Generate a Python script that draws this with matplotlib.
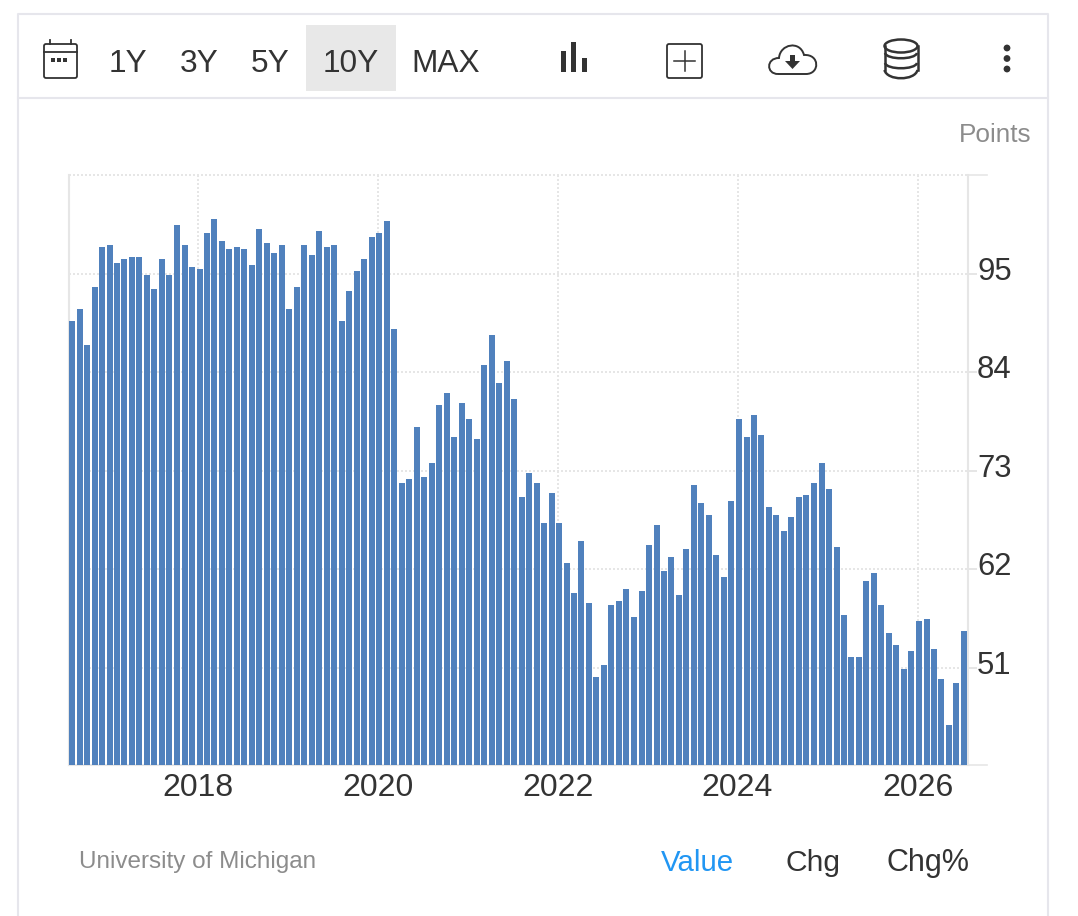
import matplotlib
matplotlib.use("Agg")
import matplotlib.pyplot as plt
import matplotlib.dates as mdates
from matplotlib.patches import Rectangle, FancyBboxPatch, Ellipse, Circle, Polygon, PathPatch
from matplotlib.path import Path
from matplotlib.transforms import ScaledTranslation
import pandas as pd

plt.rcParams['font.family'] = ['Liberation Sans', 'DejaVu Sans']

W, H = 1078, 916
values = [
    89.7, 91.05, 87.0, 93.5, 98.0, 98.2, 96.2, 96.6, 96.9, 96.9, 94.85, 93.3,
    96.6, 94.85, 100.4, 98.2, 95.75, 95.5, 99.55, 101.1, 98.65, 97.8, 98.0, 97.8,
    96.0, 100.0, 98.4, 97.3, 98.2, 91.05, 93.5, 98.2, 97.1, 99.8, 98.0, 98.2,
    89.7, 93.05, 95.3, 96.6, 99.1, 99.55, 100.9, 88.8,
    71.6, 72.06, 77.87, 72.3, 73.85, 80.33, 81.67, 76.75, 80.55, 78.77, 76.53, 84.8,
    88.15, 82.8, 85.25, 81.0, 70.05, 72.73, 71.6, 67.15, 70.5, 67.15, 62.7, 59.3,
    65.13, 58.2, 49.94, 51.3, 58.0, 58.43, 59.77, 56.64, 59.55, 64.7, 66.92, 61.8,
    63.35, 59.1,
    64.24, 71.4, 69.4, 68.04, 63.57, 61.1, 69.6, 78.77, 76.75, 79.2, 77.0, 68.93,
    68.04, 66.25, 67.82, 70.05, 70.27, 71.61, 73.85, 70.94, 64.46, 56.87, 52.17, 52.17,
    60.66, 61.56, 58.0, 54.85, 53.5, 50.83, 52.84, 56.2, 56.42, 53.07, 49.72, 44.58,
    49.27, 55.08,
]
months = pd.date_range("2016-08-01", periods=len(values), freq="MS")
y_ticks = [51, 62, 73, 84, 95]
x_years = [2018, 2020, 2022, 2024, 2026]
range_labels = ["1Y", "3Y", "5Y", "10Y", "MAX"]
range_x = [128, 199, 270, 351, 446]
source = "University of Michigan"
unit = "Points"

BAR = "#5081bd"
GRID = "#e6e6e6"
BORDER = "#e6e6ec"
INK = "#333333"
DOTS = (0, (1, 1))

fig = plt.figure(figsize=(W / 100, H / 100), dpi=100, facecolor="white")

# Chart
L, R, T, B = 68.5, 968.0, 175.0, 765.0
ax = fig.add_axes([L / W, 1 - B / H, (R - L) / W, (B - T) / H])
PX_PER_DAY = 180 / 731.0
x2018 = mdates.date2num(pd.Timestamp("2018-01-01"))
ax.set_xlim(x2018 - (198 - L) / PX_PER_DAY, x2018 + (R - 198) / PX_PER_DAY)
ax.set_ylim(40.13, 106.02)

lefts = mdates.date2num(months) - 6
ax.bar(lefts, values, width=6 / PX_PER_DAY, align="edge", color=BAR, linewidth=0, zorder=3)

ax.set_yticks(y_ticks)
ax.yaxis.tick_right()
ax.set_xticks([mdates.date2num(pd.Timestamp(f"{y}-01-01")) for y in x_years])
ax.set_xticklabels([str(y) for y in x_years], fontsize=23, color=INK)
ax.tick_params(axis="x", length=0, pad=5.4)
ax.tick_params(axis="y", length=6.5, width=1.4, color=GRID, labelsize=22.3, labelcolor=INK, pad=0)
for lab in ax.get_yticklabels():
    lab.set_transform(lab.get_transform() + ScaledTranslation(0, 5.5 / 100, fig.dpi_scale_trans))
ax.grid(True, color=GRID, linestyle=DOTS, linewidth=1.44, zorder=0)
ax.set_axisbelow(True)
ax.spines["top"].set_visible(False)
for s in ["left", "right", "bottom"]:
    ax.spines[s].set_color(GRID)
    ax.spines[s].set_linewidth(1.5)

# Overlay in pixel coordinates for the page chrome
ov = fig.add_axes([0, 0, 1, 1], facecolor="none", zorder=5)
ov.set_xlim(0, W)
ov.set_ylim(H, 0)
ov.axis("off")

ov.plot([L, R], [T, T], color=GRID, lw=1.44, linestyle=DOTS)
ov.plot([R, 987], [T, T], color=GRID, lw=1.2)
ov.plot([R, 987], [B, B], color=GRID, lw=1.2)

# Card
ov.plot([18, 18, 1048, 1048], [H, 14, 14, H], color=BORDER, lw=1.5)
ov.plot([18, 1048], [98, 98], color=BORDER, lw=1.5)
ov.add_patch(Rectangle((306, 25), 90, 66, color="#e8e8e8", lw=0))

for lab, x in zip(range_labels, range_x):
    ov.text(x, 64, lab, fontsize=22.8, color=INK, ha="center", va="center")

# Calendar icon
ov.add_patch(FancyBboxPatch((44, 44), 33, 34, boxstyle="round,pad=0,rounding_size=2", fc="none", ec=INK, lw=1.3))
ov.plot([44, 77], [52, 52], color=INK, lw=1.3)
for x in (50, 71):
    ov.plot([x, x], [40, 44], color=INK, lw=1.3)
for x in (51, 57, 63):
    ov.add_patch(Rectangle((x, 58), 3.5, 3.5, color=INK, lw=0))

# Bars icon
for x, top in zip((561, 571, 582), (51, 42, 58)):
    ov.add_patch(Rectangle((x, top), 5, 72 - top, color=INK, lw=0))

# Plus box
ov.add_patch(FancyBboxPatch((667, 44), 35, 34, boxstyle="round,pad=0,rounding_size=2", fc="none", ec=INK, lw=1.3))
ov.plot([674, 695], [61, 61], color=INK, lw=1.1)
ov.plot([684.5, 684.5], [51, 71], color=INK, lw=1.1)

# Cloud icon
cloud = Path(
    [(778, 74), (766, 74), (766, 58), (779, 58),
     (780, 44), (800, 40), (804, 55),
     (820, 54), (820, 74), (806, 74), (778, 74)],
    [Path.MOVETO, Path.CURVE4, Path.CURVE4, Path.CURVE4,
     Path.CURVE4, Path.CURVE4, Path.CURVE4,
     Path.CURVE4, Path.CURVE4, Path.CURVE4, Path.LINETO])
ov.add_patch(PathPatch(cloud, fc="none", ec=INK, lw=1.4))
ov.add_patch(Rectangle((790, 55), 5, 6, color=INK, lw=0))
ov.add_patch(Polygon([(785, 61), (800, 61), (792.5, 69)], color=INK, lw=0))

# Database icon
for y in (53, 63):
    ov.add_patch(PathPatch(Path([(885, y), (887, y + 7), (915, y + 7), (917, y)],
                                [Path.MOVETO, Path.CURVE4, Path.CURVE4, Path.CURVE4]),
                           fc="none", ec=INK, lw=1.8))
ov.add_patch(Ellipse((901, 46), 33, 13, fc="white", ec=INK, lw=1.8))
ov.plot([884.5, 884.5], [46, 70], color=INK, lw=1.8)
ov.plot([917.5, 917.5], [46, 70], color=INK, lw=1.8)
ov.add_patch(PathPatch(Path([(884.5, 70), (887, 81), (915, 81), (917.5, 70)],
                            [Path.MOVETO, Path.CURVE4, Path.CURVE4, Path.CURVE4]),
                       fc="none", ec=INK, lw=1.8))

# Menu dots
for y in (48, 58.5, 69):
    ov.add_patch(Circle((1007, y), 3.4, color=INK, lw=0))

ov.text(1031.5, 135, unit, fontsize=18.8, color="#8c8c8c", ha="right", va="center")
ov.text(79, 862, source, fontsize=17.5, color="#8c8c8c", ha="left", va="center")
ov.text(697, 863, "Value", fontsize=21.2, color="#2196f3", ha="center", va="center")
ov.text(813, 863, "Chg", fontsize=21.6, color=INK, ha="center", va="center")
ov.text(928.5, 863, "Chg%", fontsize=22, color=INK, ha="center", va="center")

fig.savefig("out.png", dpi=100, facecolor="white")
